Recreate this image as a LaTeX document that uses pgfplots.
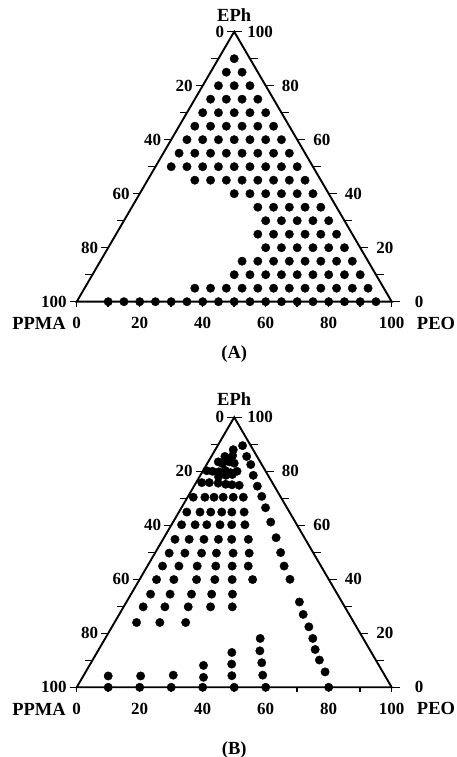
\documentclass[border=0pt]{standalone}
\usepackage{pgfplots}
\pgfplotsset{compat=1.18}
\usepackage{pgfplotstable}
\usepackage{fontspec}
\setmainfont{Liberation Serif}

% compositions: PEO and EPh (PPMA = 100 - PEO - EPh)
\pgfplotstableread{
peo eph
10 0
15 0
20 0
25 0
30 0
35 0
40 0
45 0
50 0
55 0
60 0
65 0
70 0
75 0
80 0
85 0
90 0
95 0
35 5
40 5
45 5
50 5
55 5
60 5
65 5
70 5
75 5
80 5
85 5
90 5
45 10
50 10
55 10
60 10
65 10
70 10
75 10
80 10
85 10
45 15
50 15
55 15
60 15
65 15
70 15
75 15
80 15
50 20
55 20
60 20
65 20
70 20
75 20
45 25
50 25
55 25
60 25
65 25
70 25
45 30
50 30
55 30
60 30
65 30
40 35
45 35
50 35
55 35
60 35
30 40
35 40
40 40
45 40
50 40
55 40
15 45
20 45
25 45
30 45
35 45
40 45
45 45
50 45
5 50
10 50
15 50
20 50
25 50
30 50
35 50
40 50
45 50
5 55
10 55
15 55
20 55
25 55
30 55
35 55
40 55
5 60
10 60
15 60
20 60
25 60
30 60
35 60
5 65
10 65
15 65
20 65
25 65
30 65
5 70
10 70
15 70
20 70
25 70
5 75
10 75
15 75
20 75
5 80
10 80
15 80
5 85
10 85
5 90
}\dataA

\pgfplotstableread{
peo eph
7.9 89.5
11.2 85.5
14.0 82.5
16.8 78.5
20.1 74.5
23.4 70.7
26.7 66.5
31.0 61.2
35.6 55.4
39.8 49.9
43.4 44.9
47.7 40.0
54.9 31.6
58.4 27.0
62.5 22.4
65.9 18.1
68.7 14.0
72.0 10.1
76.0 5.7
80.0 0
5.7 88.0
4.3 85.5
6.6 85.8
3.2 83.5
4.9 82.8
6.7 83.5
8.5 83.0
1.2 80.2
3.1 80.0
5.2 79.8
7.0 80.3
9.1 79.5
10.9 80.0
6.0 78.0
8.1 78.5
10.0 78.8
1.8 75.8
4.2 75.8
7.1 75.6
9.7 75.2
11.8 75.0
14.2 74.8
1.8 70.4
5.5 70.4
8.4 70.4
11.3 70.4
14.5 70.4
17.7 70.4
2.5 64.9
6.7 64.9
10.1 64.9
13.6 64.9
16.8 64.9
20.7 64.9
3.2 60.2
7.5 60.2
11.2 60.2
15.4 60.2
19.1 60.2
23.3 60.2
3.8 54.8
8.3 54.8
13.0 54.8
17.6 54.8
21.8 54.8
27.1 54.8
4.5 49.7
9.5 49.7
14.8 49.7
19.5 49.7
24.8 49.7
29.9 49.7
4.8 44.9
10.0 44.9
15.8 44.9
21.7 44.9
26.9 44.9
32.0 44.9
5.4 39.9
10.9 39.9
18.1 39.9
23.9 39.9
29.4 39.9
35.9 39.9
6.2 34.5
12.4 34.5
19.2 34.5
25.6 34.5
32.2 34.5
6.2 29.8
13.1 29.8
20.5 29.8
27.6 29.8
34.5 29.8
7.0 24.0
14.4 24.0
22.6 24.0
7.9 4.2
18.2 4.2
28.4 4.5
38.4 3.7
36.2 8.1
42.8 12.9
44.9 8.6
47.1 4.3
49.2 18.1
51.4 13.5
54.2 9.1
56.8 4.5
10 0
20 0
30 0
40 0
50 0
60 0
}\dataB

\newcommand{\numfont}{\bfseries\fontsize{17}{17}\selectfont}
\newcommand{\namefont}{\bfseries\fontsize{18.5}{18.5}\selectfont}

% frame of a ternary diagram: #1 = panel letter, #2 = shift of EPh title, #3 = shift of panel label
\newcommand{\ternframe}[3]{%
  \addplot[black, line width=1.9pt, line join=miter] coordinates {(0,0) (100,0) (50,86.6) (0,0) (100,0)};
  % ticks
  \pgfplotsinvokeforeach{0,10,20,30,40,50,60,70,80,90,100}{
    \draw[line width=1.5pt] (axis cs:{(100-##1)/2},{(100-##1)*0.866}) -- ++(-7pt,0pt);
    \draw[line width=1.5pt] (axis cs:{100-##1/2},{##1*0.866}) -- ++(8pt,0pt);
    \draw[line width=1.5pt] (axis cs:##1,0) -- ++(0pt,-5pt);
  }
  \pgfplotsinvokeforeach{20,40,60,80}{
    \node[anchor=east, inner sep=0pt, xshift=-10pt, font=\numfont] at (axis cs:{(100-##1)/2},{(100-##1)*0.866}) {##1};
    \node[anchor=west, inner sep=0pt, xshift=16pt, font=\numfont] at (axis cs:{100-##1/2},{##1*0.866}) {##1};
  }
  \pgfplotsinvokeforeach{0,20,40,60,80,100}{
    \node[anchor=center, inner sep=0pt, yshift=-21.6pt, font=\numfont] at (axis cs:##1,0) {##1};
  }
  \node[anchor=east, inner sep=0pt, xshift=-10pt, font=\numfont] at (axis cs:50,86.6) {0};
  \node[anchor=west, inner sep=0pt, xshift=13pt, font=\numfont] at (axis cs:50,86.6) {100};
  \node[anchor=east, inner sep=0pt, xshift=-10pt, font=\numfont] at (axis cs:0,0) {100};
  \node[anchor=west, inner sep=0pt, xshift=23pt, font=\numfont] at (axis cs:100,0) {0};
  \node[anchor=center, inner sep=0pt, xshift=-37.7pt, yshift=-21.6pt, font=\namefont] at (axis cs:0,0) {PPMA};
  \node[anchor=center, inner sep=0pt, xshift=44.3pt, yshift=-21.6pt, font=\namefont] at (axis cs:100,0) {PEO};
  \node[anchor=center, inner sep=0pt, yshift=#2, font=\namefont] at (axis cs:50,86.6) {EPh};
  \node[anchor=center, inner sep=0pt, yshift=#3, font=\namefont] at (axis cs:50,0) {(#1)};
}

\begin{document}
\begin{tikzpicture}
\useasboundingbox (0,0) rectangle (456pt,757pt);
\begin{axis}[at={(76.7pt,455.3pt)}, anchor=south west, scale only axis,
  width=315pt, height=270pt, xmin=0, xmax=100, ymin=0, ymax=86.6,
  hide axis, clip=false]
  \ternframe{A}{16.7pt}{-52.8pt}
  \addplot[only marks, mark=*, mark size=4.2pt, black]
    table[x expr=\thisrow{peo}+0.5*\thisrow{eph}, y expr=0.866*\thisrow{eph}] {\dataA};
\end{axis}
\begin{axis}[at={(76.7pt,69.7pt)}, anchor=south west, scale only axis,
  width=315pt, height=270pt, xmin=0, xmax=100, ymin=0, ymax=86.6,
  hide axis, clip=false]
  \ternframe{B}{18.4pt}{-62.7pt}
  \addplot[only marks, mark=*, mark size=4.2pt, black]
    table[x expr=\thisrow{peo}+0.5*\thisrow{eph}, y expr=0.866*\thisrow{eph}] {\dataB};
\end{axis}
\end{tikzpicture}
\end{document}
